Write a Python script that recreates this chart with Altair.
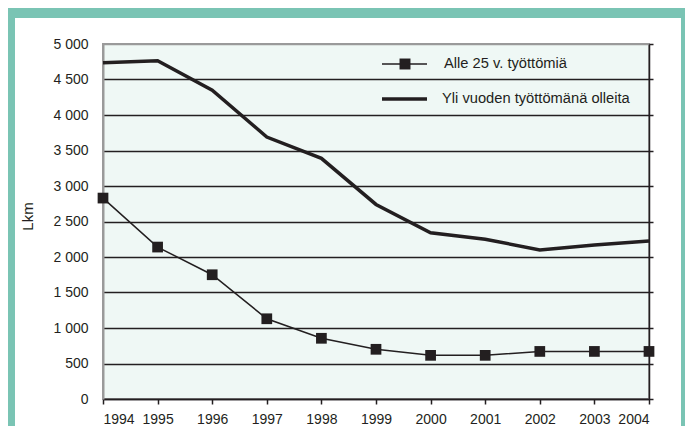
import altair as alt
import pandas as pd

# ---- data ----
years = [1994, 1995, 1996, 1997, 1998, 1999, 2000, 2001, 2002, 2003, 2004]
alle25 = [2830, 2140, 1750, 1130, 855, 700, 615, 615, 670, 670, 670]
yli_vuoden = [4735, 4765, 4350, 3690, 3390, 2740, 2340, 2250, 2100, 2170, 2225]
series_names = ["Alle 25 v. työttömiä", "Yli vuoden työttömänä olleita"]
y_ticks = [0, 500, 1000, 1500, 2000, 2500, 3000, 3500, 4000, 4500, 5000]
y_title = "Lkm"

# ---- styling ----
FONT = "Liberation Sans"
INK = "#231f20"
TEAL = "#7ac4b4"
BG = "#eff8f5"
W, H = 546, 355
PAD = {"left": 95, "top": 36, "right": 36, "bottom": 27}
TOTAL_W = PAD["left"] + W + PAD["right"]
TOTAL_H = PAD["top"] + H + PAD["bottom"]

df = pd.DataFrame({"year": years, "alle": alle25, "yli": yli_vuoden})
one = pd.DataFrame({"k": [0]})

xscale = alt.Scale(domain=[min(years), max(years)], nice=False, zero=False)
yscale = alt.Scale(domain=[0, 5000], nice=False)

x_enc = alt.X(
    "year:Q", scale=xscale,
    axis=alt.Axis(values=years, format="d", title=None, grid=False,
                  domainColor=INK, domainWidth=1.5, tickColor=INK, tickWidth=1.5,
                  tickSize=5, labelPadding=8, labelFontSize=14, labelColor=INK,
                  labelFont=FONT),
)

left_axis = alt.Axis(
    values=y_ticks, title=y_title, grid=True,
    gridColor={"condition": {"test": "datum.value === 5000", "value": "#9a9a9a"}, "value": INK},
    gridWidth=1.5, domainColor="#9a9a9a", domainWidth=2, ticks=False, tickSize=0,
    labelPadding=15, labelFontSize=14, labelColor=INK, labelFont=FONT,
    labelExpr="replace(format(datum.value, ','), ',', ' ')",
    titleFont=FONT, titleFontSize=15, titleFontWeight="normal", titleColor=INK,
    titleX=-68, titleY=172,
)
right_axis = alt.Axis(
    orient="right", values=y_ticks, title=None, grid=False, labels=False,
    domainColor=INK, domainWidth=1.5, tickColor=INK, tickWidth=1.5, tickSize=4,
)

base = alt.Chart(df)

alle_line = base.mark_line(color=INK, strokeWidth=1.5).encode(
    x=x_enc, y=alt.Y("alle:Q", scale=yscale, axis=left_axis))
alle_pts = base.mark_point(shape="square", filled=True, size=115, color=INK, opacity=1).encode(
    x=x_enc, y=alt.Y("alle:Q", scale=yscale, axis=left_axis))
yli_line = base.mark_line(color=INK, strokeWidth=3.5).encode(
    x=x_enc, y=alt.Y("yli:Q", scale=yscale, axis=right_axis))

left_part = alt.layer(alle_line, alle_pts)

# ---- manual legend inside the plot ----
def rule(x1, x2, y, w):
    return alt.Chart(one).mark_rule(color=INK, strokeWidth=w).encode(
        x=alt.value(x1), x2=alt.value(x2), y=alt.value(y))

def label(txt, x, y):
    return alt.Chart(one).mark_text(text=txt, align="left", baseline="middle",
                                    font=FONT, fontSize=14.7, color=INK).encode(
        x=alt.value(x), y=alt.value(y))

leg1 = rule(279, 324, 20, 1.5)
leg1pt = alt.Chart(one).mark_point(shape="square", filled=True, size=120, color=INK, opacity=1).encode(
    x=alt.value(302), y=alt.value(20))
leg1t = label(series_names[0], 341, 20)
leg2 = rule(279, 324, 55, 3.5)
leg2t = label(series_names[1], 339, 55)

# ---- teal frame ----
def band(x1, x2, y1, y2):
    return alt.Chart(one).mark_rect(color=TEAL).encode(
        x=alt.value(x1), x2=alt.value(x2), y=alt.value(y1), y2=alt.value(y2))

right_edge = TOTAL_W - PAD["left"]
bottom_edge = TOTAL_H - PAD["top"]
frame = alt.layer(
    band(-PAD["left"], -88, -PAD["top"], bottom_edge),
    band(578, right_edge, -PAD["top"], bottom_edge),
    band(-PAD["left"], right_edge, -PAD["top"], -26),
)

chart = alt.layer(
    left_part, yli_line, leg1, leg1pt, leg1t, leg2, leg2t, frame
).resolve_scale(y="independent").properties(
    width=W, height=H,
    autosize=alt.AutoSizeParams(type="none"),
    padding=PAD,
    background="white",
).configure_view(fill=BG, stroke="#9a9a9a", strokeWidth=2)

chart.save("out.html", embed_options={"renderer": "svg", "actions": False})
